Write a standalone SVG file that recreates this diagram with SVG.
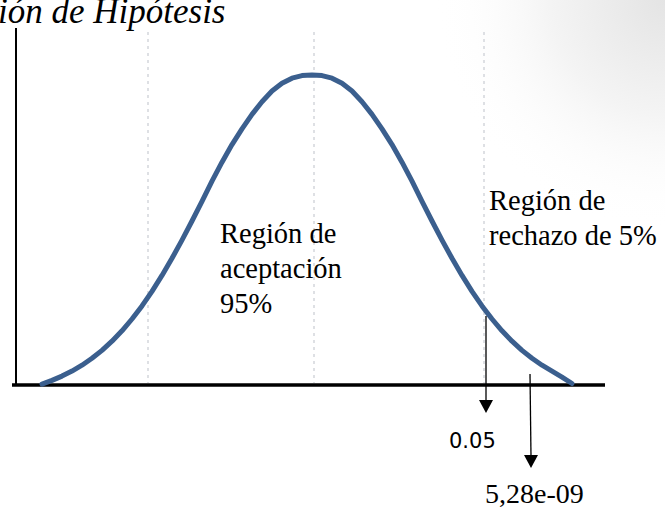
<svg xmlns="http://www.w3.org/2000/svg" width="665" height="510" viewBox="0 0 665 510">
<style>
.grid{stroke:#d4d6dc;stroke-width:1.5;stroke-dasharray:3 4;fill:none;}
.axis{stroke:#000;fill:none;}
.curve{stroke:#3b5f8e;stroke-width:5;fill:none;stroke-linecap:round;stroke-linejoin:round;}
.arr{stroke:#000;stroke-width:1.3;fill:none;}
</style>
<defs>
<radialGradient id="shade" cx="665" cy="0" r="230" gradientUnits="userSpaceOnUse">
<stop offset="0" stop-color="#e4e4e4"/>
<stop offset="0.5" stop-color="#f4f4f4"/>
<stop offset="1" stop-color="#ffffff" stop-opacity="0"/>
</radialGradient>
</defs>
<rect x="0" y="0" width="665" height="510" fill="#fff"/>
<rect x="430" y="0" width="235" height="230" fill="url(#shade)"/>
<text id="title" x="-2" y="23" font-family="Liberation Serif, serif" font-size="35" font-style="italic" fill="#000">ión de Hipótesis</text>
<g id="grid">
<line class="grid" x1="148" y1="32" x2="148" y2="383"/>
<line class="grid" x1="314" y1="32" x2="314" y2="383"/>
<line class="grid" x1="484" y1="32" x2="484" y2="383"/>
</g>
<g id="axes">
<line class="axis" x1="16" y1="28" x2="16" y2="384" stroke-width="2"/>
<line class="axis" x1="12" y1="385" x2="605" y2="385" stroke-width="3.5"/>
</g>
<g id="curve">
<polyline class="curve" points="42,384.1 52,380.4 62,376.1 72,371.1 82,365.2 92,358.3 102,350.4 112,341.2 122,330.8 132,319 142,305.9 152,291.3 162,275.4 172,258.3 182,240.1 192,221 202,201.3 212,181.2 222,162.2 232,144.6 242,128.9 252,114.4 262,101.7 272,91 282,83.2 292,78.2 302,75.6 312,75 322,75.6 332,78.2 342,83.2 352,91 362,101.7 372,114.4 382,128.9 392,144.6 402,162.2 412,181.2 422,201.3 432,221 442,240.1 452,258.3 462,275.4 472,291.3 482,305.9 492,319 502,330.8 512,341.2 522,350.4 532,358.3 542,365.2 552,371.1 562,377.1 572,383.5"/>
</g>
<g id="connectors">
<line class="arr" x1="486" y1="316" x2="486" y2="402"/>
<polygon points="479,400 493,400 486,413" fill="#000"/>
<line class="arr" x1="530" y1="374" x2="531" y2="457"/>
<polygon points="524,455 538,455 531,468" fill="#000"/>
</g>
<g id="accept" font-family="Liberation Serif, serif" font-size="28.5" fill="#000">
<text x="220" y="243">Región de</text>
<text x="220" y="278">aceptación</text>
<text x="220" y="313">95%</text>
</g>
<g id="reject" font-family="Liberation Serif, serif" font-size="28.5" fill="#000">
<text x="489" y="210">Región de</text>
<text x="489" y="245">rechazo de 5%</text>
</g>
<g id="val1">
<text x="449" y="448" font-family="DejaVu Sans, sans-serif" font-size="21" fill="#000">0.05</text>
</g>
<g id="val2">
<text x="485" y="503" font-family="Liberation Serif, serif" font-size="28" fill="#000">5,28e-09</text>
</g>
</svg>
